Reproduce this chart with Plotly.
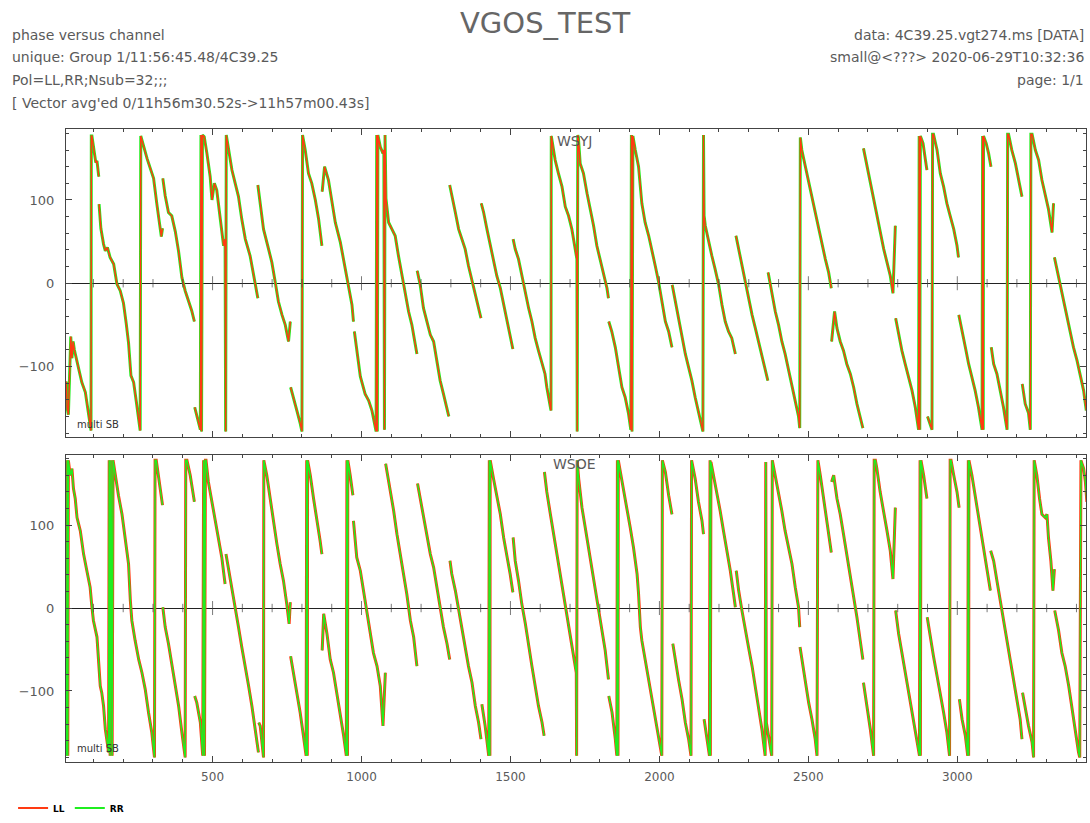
import plotly.graph_objects as go

# ---------------- data (channel, phase in degrees) ----------------
CHAN_RANGE = [8, 3432]
PHASE_RANGE = [-185, 185]
X_TICKS = [500, 1000, 1500, 2000, 2500, 3000]
X_MINOR_TICKS = list(range(100, 3500, 100))
Y_TICKS = [-100, 0, 100]

# Baseline WSYJ (top panel): each inner list is one contiguous run of channels
WSYJ_SEGMENTS = [
    [(9, -118), (12, -150), (16, -158), (20, -100), (24, -64), (28, -90), (32, -70), (36, -80), (47, -96),
     (61, -119), (73, -131), (84, -155), (92, -177), (93, 177), (95, 177), (103, 157), (108, 145),
     (112, 147), (118, 128)],
    [(119, 95), (125, 66), (134, 47), (140, 39), (147, 43), (156, 31), (168, 23), (179, -1), (190, -9),
     (201, -24), (210, -48), (218, -72), (226, -111), (235, -119), (244, -142), (252, -166), (257, -177),
     (259, 177), (268, 165), (280, 150), (291, 138), (302, 126), (313, 95), (319, 78), (324, 71),
     (328, 56), (332, 66)],
    [(333, 126), (341, 105), (352, 85), (363, 81), (375, 62), (386, 38), (397, 7), (408, -9), (419, -21),
     (430, -33), (439, -46)],
    [(440, -149), (447, -160), (459, -176), (461, 178), (463, -178), (466, 178), (472, 176), (481, 156),
     (492, 128), (498, 100), (506, 120), (514, 112), (523, 85), (531, 65), (537, 45), (542, 53),
     (544, -178), (546, 178), (554, 160), (565, 136), (576, 120), (587, 104), (598, 77), (610, 53),
     (626, 33), (638, 9), (652, -18)],
    [(652, 118), (660, 96), (671, 65), (688, 41), (699, 25), (710, 2), (721, -22), (733, -38), (744, -50),
     (755, -70), (761, -46)],
    [(762, -125), (772, -137), (783, -153), (794, -168), (800, -178), (802, 178), (811, 160), (822, 132),
     (833, 120), (845, 100), (856, 77), (867, 45)],
    [(868, 110), (876, 140), (889, 124), (901, 100), (912, 73), (929, 49), (945, 17), (956, -2),
     (968, -26), (973, -46)],
    [(976, -58), (985, -85), (996, -112), (1012, -133), (1024, -141), (1035, -153), (1043, -168),
     (1049, -178), (1051, 178), (1053, -178), (1055, 178), (1063, 164), (1072, 156), (1075, 160),
     (1077, -176), (1079, 178), (1082, 102), (1091, 73), (1102, 65), (1113, 57), (1124, 33), (1136, 9),
     (1147, -14), (1158, -34), (1169, -50), (1180, -70), (1186, -85)],
    [(1187, 15), (1197, -2), (1208, -30), (1219, -46), (1231, -62), (1242, -70), (1253, -93), (1264, -117),
     (1275, -133), (1287, -149), (1293, -160)],
    [(1296, 118), (1303, 104), (1315, 85), (1326, 65), (1337, 53), (1348, 41), (1359, 21), (1371, 2),
     (1382, -14), (1393, -30), (1401, -42)],
    [(1402, 96), (1410, 85), (1421, 65), (1432, 45), (1443, 25), (1454, 9), (1466, -6), (1477, -26),
     (1488, -46), (1499, -66), (1508, -79)],
    [(1509, 53), (1516, 41), (1527, 29), (1538, 9), (1550, -14), (1561, -30), (1572, -46), (1583, -66),
     (1594, -81), (1606, -97), (1611, -105), (1616, -109), (1622, -125), (1630, -141), (1636, -153),
     (1637, 177), (1650, 148), (1661, 132), (1673, 116), (1684, 92), (1695, 81), (1706, 65), (1717, 41),
     (1723, 29), (1724, -178), (1726, 178), (1728, 175), (1734, 144), (1745, 132), (1757, 108),
     (1768, 89), (1779, 69), (1790, 45), (1801, 29), (1813, 9), (1824, -6), (1829, -18)],
    [(1830, -46), (1840, -58), (1852, -77), (1863, -101), (1874, -125), (1885, -137), (1896, -156),
     (1904, -176), (1906, 178), (1908, -178), (1911, 177), (1919, 160), (1930, 140), (1941, 96),
     (1952, 73), (1964, 57), (1975, 37), (1986, 21), (1997, 2), (2008, -22), (2020, -46), (2031, -58),
     (2042, -77)],
    [(2043, -2), (2053, -22), (2064, -42), (2075, -66), (2087, -85), (2098, -101), (2109, -117),
     (2120, -137), (2131, -153), (2143, -172), (2146, -178), (2148, 178), (2150, 81), (2154, 69),
     (2165, 49), (2176, 33), (2187, 17), (2199, -2), (2210, -26), (2221, -46), (2232, -58), (2243, -66),
     (2255, -85)],
    [(2257, 57), (2266, 41), (2277, 21), (2288, 2), (2299, -18), (2311, -38), (2322, -54), (2333, -70),
     (2344, -85), (2355, -101), (2364, -117)],
    [(2365, 13), (2378, -14), (2389, -34), (2400, -50), (2411, -70), (2422, -85), (2434, -105),
     (2445, -125), (2456, -145), (2467, -160), (2471, -174), (2473, 175), (2478, 160), (2490, 140),
     (2501, 124), (2512, 104), (2523, 85), (2534, 65), (2546, 45), (2557, 29), (2568, 13), (2577, -6)],
    [(2578, -70), (2588, -34), (2596, -54), (2607, -70), (2618, -81), (2629, -97), (2641, -109),
     (2652, -125), (2663, -145), (2674, -160), (2683, -174)],
    [(2685, 162), (2697, 140), (2708, 120), (2719, 100), (2730, 81), (2741, 61), (2753, 41), (2764, 25),
     (2775, 9), (2784, -12), (2792, 69)],
    [(2793, -42), (2803, -62), (2814, -81), (2825, -97), (2837, -113), (2848, -129), (2859, -149),
     (2870, -176), (2872, 177), (2874, -176), (2876, 177), (2885, 168), (2893, 148), (2898, 136)],
    [(2900, -160), (2908, -168), (2915, -176), (2917, 179), (2920, 179), (2932, 160), (2943, 132),
     (2954, 116), (2965, 96), (2976, 81), (2988, 65), (2999, 45), (3004, 31)],
    [(3005, -38), (3015, -58), (3027, -77), (3038, -97), (3049, -113), (3060, -129), (3071, -149),
     (3083, -176), (3085, 177), (3087, -176), (3088, 177), (3097, 168), (3105, 156), (3113, 140)],
    [(3114, -77), (3122, -97), (3133, -109), (3144, -129), (3155, -149), (3167, -176), (3169, 179),
     (3172, 179), (3183, 160), (3195, 144), (3206, 124), (3217, 104)],
    [(3218, -121), (3228, -145), (3239, -156), (3245, -176), (3247, 179), (3251, 179), (3262, 160),
     (3273, 148), (3284, 124), (3295, 108), (3306, 89), (3318, 61), (3323, 96)],
    [(3326, 31), (3334, 17), (3346, -2), (3357, -22), (3368, -42), (3379, -62), (3390, -77), (3402, -93),
     (3413, -113), (3424, -129), (3433, -153)],
]

# Baseline WSOE (bottom panel)
WSOE_SEGMENTS = [
    [(6, -140), (10, -178), (12, 178), (14, -178), (16, 178), (22, 160), (28, 168), (33, 144), (39, 132),
     (45, 109), (56, 93), (67, 65), (78, 45), (89, 25), (95, 1), (100, -15), (112, -35), (117, -62),
     (123, -94), (128, -102), (134, -118), (140, -146), (145, -158), (151, -174), (153, 178), (156, -178),
     (159, 178), (163, -178), (166, 178), (173, 160), (184, 136), (196, 113), (207, 81), (218, 53),
     (224, 9), (229, -15), (240, -39), (252, -62), (263, -78), (274, -98), (285, -126), (296, -150),
     (305, -180), (307, 178), (311, 178), (319, 156), (324, 148), (332, 124)],
    [(333, 1), (341, -23), (352, -43), (363, -66), (375, -94), (386, -118), (397, -150), (408, -180),
     (410, 178), (414, 178), (425, 160), (436, 132), (439, 128)],
    [(440, -106), (447, -114), (459, -138), (467, -178), (470, 178), (473, -178), (476, 178), (478, 178),
     (486, 152), (498, 128), (509, 109), (520, 85), (531, 61), (542, 29)],
    [(545, 65), (554, 45), (565, 25), (576, 1), (587, -23), (598, -47), (610, -70), (621, -94),
     (632, -118), (643, -146), (654, -174)],
    [(655, -138), (660, -142), (671, -180), (672, 178), (682, 160), (693, 132), (705, 105), (716, 77),
     (727, 53), (738, 33), (749, 5), (757, -19), (761, 7)],
    [(762, -58), (772, -78), (783, -102), (794, -126), (805, -154), (814, -178), (816, 178), (818, -178),
     (819, 178), (828, 160), (839, 132), (850, 109), (861, 81), (867, 65)],
    [(868, -51), (873, -7), (884, -31), (895, -62), (906, -78), (917, -102), (929, -126), (940, -154),
     (949, -178), (951, 178), (953, -178), (954, 178), (962, 160), (971, 136)],
    [(973, 105), (984, 61), (996, 45), (1007, 21), (1018, -7), (1029, -31), (1040, -54), (1052, -70),
     (1063, -94), (1072, -142), (1080, -78)],
    [(1081, 174), (1091, 152), (1102, 132), (1108, 117), (1119, 89), (1130, 65), (1141, 41), (1152, 17),
     (1164, -15), (1175, -35), (1186, -70)],
    [(1188, 150), (1197, 132), (1208, 109), (1220, 85), (1231, 65), (1242, 49), (1253, 25), (1264, 1),
     (1275, -23), (1287, -43), (1296, -62)],
    [(1297, 57), (1303, 41), (1315, 21), (1326, -3), (1337, -27), (1348, -51), (1359, -70), (1371, -90),
     (1382, -118), (1393, -138), (1401, -158)],
    [(1404, -116), (1415, -142), (1427, -178), (1429, 178), (1431, -178), (1432, 178), (1443, 156),
     (1455, 132), (1466, 113), (1477, 85), (1488, 65), (1499, 41), (1508, 19)],
    [(1509, 85), (1516, 57), (1527, 33), (1538, 5), (1550, -19), (1561, -47), (1572, -70), (1583, -94),
     (1594, -118), (1606, -138), (1613, -154)],
    [(1614, 164), (1622, 140), (1634, 113), (1645, 89), (1656, 65), (1667, 41), (1678, 17), (1690, -7),
     (1701, -31), (1712, -54), (1721, -78), (1722, -178), (1724, 178), (1729, 156), (1740, 121),
     (1751, 97), (1762, 73), (1773, 49), (1785, 25), (1796, 1), (1807, -23), (1818, -51), (1829, -86)],
    [(1830, -106), (1841, -126), (1852, -158), (1857, -178), (1859, 178), (1861, -178), (1862, 178),
     (1869, 164), (1880, 144), (1891, 124), (1902, 97), (1913, 73), (1925, 41), (1930, 17), (1936, -23),
     (1941, -39), (1952, -62), (1964, -86), (1975, -110), (1986, -134), (1997, -158), (2008, -178),
     (2010, 178), (2020, 164), (2031, 136), (2042, 113)],
    [(2045, -43), (2053, -62), (2064, -86), (2076, -110), (2087, -138), (2098, -158), (2106, -178),
     (2108, 178), (2120, 156), (2131, 128), (2143, 105), (2148, 89)],
    [(2150, -134), (2159, -154), (2168, -178), (2170, 178), (2171, -178), (2173, 176), (2182, 160),
     (2193, 140), (2204, 117), (2215, 93), (2227, 69), (2238, 45), (2249, 17), (2255, 1)],
    [(2258, 45), (2266, 21), (2277, -3), (2288, -27), (2299, -47), (2311, -70), (2322, -94), (2333, -118),
     (2344, -146), (2355, -178), (2357, 176), (2359, -138), (2370, -166), (2377, -178), (2379, 178),
     (2389, 160), (2400, 140), (2411, 117), (2422, 93), (2434, 73), (2445, 53), (2456, 25), (2467, 1),
     (2471, -23)],
    [(2472, -47), (2478, -62), (2490, -86), (2501, -114), (2512, -134), (2523, -158), (2529, -178),
     (2530, 178), (2531, -178), (2532, 178), (2540, 160), (2551, 132), (2562, 105), (2574, 73),
     (2577, 67)],
    [(2578, 152), (2585, 160), (2596, 132), (2607, 113), (2618, 89), (2629, 65), (2641, 41), (2652, 13),
     (2663, -11), (2674, -39), (2683, -62)],
    [(2685, -90), (2697, -118), (2708, -146), (2719, -178), (2721, 178), (2725, 178), (2730, 168),
     (2741, 140), (2753, 117), (2764, 93), (2775, 69), (2784, 35), (2792, 121)],
    [(2793, -3), (2803, -31), (2814, -54), (2825, -78), (2836, -102), (2848, -126), (2859, -150),
     (2873, -178), (2875, 178), (2876, -178), (2878, 178), (2887, 160), (2898, 132)],
    [(2899, -11), (2909, -35), (2920, -58), (2932, -82), (2943, -102), (2954, -126), (2965, -150),
     (2974, -178), (2976, 178), (2979, 178), (2988, 160), (2999, 140), (3006, 121)],
    [(3007, -110), (3016, -134), (3027, -154), (3035, -178), (3037, 178), (3038, -178), (3039, 178),
     (3049, 160), (3060, 136), (3071, 109), (3083, 85), (3094, 61), (3105, 37), (3111, 21)],
    [(3112, 69), (3122, 57), (3133, 33), (3144, 9), (3155, -15), (3167, -39), (3178, -62), (3189, -86),
     (3200, -110), (3211, -134), (3217, -158)],
    [(3219, -102), (3228, -122), (3239, -142), (3251, -162), (3256, -180), (3258, 178), (3267, 160),
     (3276, 132), (3284, 113), (3295, 109), (3301, 113), (3306, 85), (3314, 57), (3321, 21), (3326, 47)],
    [(3327, -3), (3340, -27), (3351, -54), (3362, -70), (3374, -94), (3385, -122), (3396, -146),
     (3407, -174), (3411, -180), (3413, 178), (3415, 178), (3424, 168), (3430, 152), (3435, 128)],
]

# LL and RR overlap almost exactly in the reference; both polarisations use the same runs
LL = {"WSYJ": WSYJ_SEGMENTS, "WSOE": WSOE_SEGMENTS}
RR = {"WSYJ": WSYJ_SEGMENTS, "WSOE": WSOE_SEGMENTS}

HEADER_LEFT = ["phase versus channel",
               "unique: Group 1/11:56:45.48/4C39.25",
               "Pol=LL,RR;Nsub=32;;;",
               "[ Vector avg'ed 0/11h56m30.52s->11h57m00.43s]"]
HEADER_RIGHT = ["data: 4C39.25.vgt274.ms [DATA]",
                "small@<???> 2020-06-29T10:32:36",
                "page: 1/1"]
TITLE = "VGOS_TEST"

# ---------------- styling ----------------
COL_LL = "#ff3a12"
COL_RR = "#1fee1f"
TXT = "#5a5a5a"
AXC = "#444444"
FONT = "DejaVu Sans"
W, H = 1090, 823


def flatten(segments):
    xs, ys = [], []
    for seg in segments:
        for c, p in seg:
            xs.append(c)
            ys.append(p)
        xs.append(None)
        ys.append(None)
    return xs, ys


fig = go.Figure()

panels = [("WSYJ", "x", "y", True), ("WSOE", "x2", "y2", False)]
for name, xa, ya, first in panels:
    lx, ly = flatten(LL[name])
    rx, ry = flatten(RR[name])
    under, over = (("RR", rx, ry, COL_RR), ("LL", lx, ly, COL_LL)) if first else \
                  (("LL", lx, ly, COL_LL), ("RR", rx, ry, COL_RR))
    for lbl, xs, ys, col, wid in [(under[0], under[1], under[2], under[3], 3.0),
                                  (over[0], over[1], over[2], over[3], 1.5)]:
        fig.add_trace(go.Scatter(x=xs, y=ys, mode="lines", name=lbl, xaxis=xa, yaxis=ya,
                                 line=dict(color=col, width=wid), connectgaps=False,
                                 showlegend=False, hoverinfo="skip"))
    # small tick marks along the zero-phase axis (as in the PGPLOT original)
    fig.add_trace(go.Scatter(x=X_MINOR_TICKS, y=[0] * len(X_MINOR_TICKS), mode="markers",
                             xaxis=xa, yaxis=ya, showlegend=False, hoverinfo="skip",
                             marker=dict(symbol="line-ns", color=AXC,
                                         size=[10 if t % 500 == 0 else 6 for t in X_MINOR_TICKS],
                                         line=dict(color=AXC, width=1))))

# legend entries (LL then RR)
for lbl, col in [("LL", COL_LL), ("RR", COL_RR)]:
    fig.add_trace(go.Scatter(x=[None], y=[None], mode="lines", name=lbl, xaxis="x", yaxis="y",
                             line=dict(color=col, width=2), showlegend=True))

left, right = 66 / W, 1086 / W
top_dom = [1 - 441.5 / H, 1 - 130.5 / H]
bot_dom = [1 - 769 / H, 1 - 459 / H]

xcommon = dict(range=CHAN_RANGE, showline=True, mirror="allticks", linecolor=AXC, linewidth=1,
               ticks="inside", ticklen=6, tickcolor=AXC, tickvals=X_TICKS,
               minor=dict(dtick=100, ticks="inside", ticklen=3, tickcolor=AXC, showgrid=False),
               showgrid=False, zeroline=False, domain=[left, right],
               tickfont=dict(family=FONT, size=12, color=TXT), ticklabelstandoff=4)
ycommon = dict(range=PHASE_RANGE, showline=True, mirror="allticks", linecolor=AXC, linewidth=1,
               ticks="inside", ticklen=6, tickcolor=AXC, tickvals=Y_TICKS,
               ticktext=["\u2212100", "0", "100"],
               minor=dict(dtick=20, ticks="inside", ticklen=3, tickcolor=AXC, showgrid=False),
               showgrid=False, zeroline=True, zerolinecolor="#222", zerolinewidth=1,
               tickfont=dict(family=FONT, size=13, color=TXT), ticklabelstandoff=8)

fig.update_layout(
    width=W, height=H,
    margin=dict(l=0, r=0, t=0, b=0),
    paper_bgcolor="white", plot_bgcolor="white",
    xaxis=dict(**xcommon, anchor="y", showticklabels=False),
    yaxis=dict(**ycommon, domain=top_dom, anchor="x"),
    xaxis2=dict(**xcommon, anchor="y2", showticklabels=True),
    yaxis2=dict(**ycommon, domain=bot_dom, anchor="x2"),
    showlegend=True,
    legend=dict(orientation="h", x=0.012, y=1 - 816 / H, xanchor="left", yanchor="middle",
                font=dict(family=FONT, size=9, color="black", weight="bold"),
                bgcolor="rgba(0,0,0,0)", itemwidth=30),
)

ann = []
ann.append(dict(text=TITLE, x=0.5, y=1 - 23 / H, xref="paper", yref="paper", xanchor="center",
                yanchor="middle", showarrow=False, font=dict(family=FONT, size=29, color="#666")))
for i, t in enumerate(HEADER_LEFT):
    ann.append(dict(text=t, x=10 / W, y=1 - (35 + 23 * i) / H, xref="paper", yref="paper",
                    xanchor="left", yanchor="middle", showarrow=False,
                    font=dict(family=FONT, size=14, color=TXT)))
for i, t in enumerate(HEADER_RIGHT):
    ann.append(dict(text=t, x=1086 / W, y=1 - (35 + 23 * i) / H, xref="paper", yref="paper",
                    xanchor="right", yanchor="middle", showarrow=False,
                    font=dict(family=FONT, size=14, color=TXT)))
for name, yc, ym in [("WSYJ", 142, 429), ("WSOE", 469, 756)]:
    ann.append(dict(text=name, x=575 / W, y=1 - yc / H, xref="paper", yref="paper", xanchor="center",
                    yanchor="middle", showarrow=False, font=dict(family=FONT, size=14, color=TXT)))
    ann.append(dict(text="multi SB", x=75 / W, y=1 - ym / H, xref="paper", yref="paper",
                    xanchor="left", yanchor="middle", showarrow=False,
                    font=dict(family=FONT, size=10, color="#333")))
fig.update_layout(annotations=ann)

fig.write_html("out.html")
